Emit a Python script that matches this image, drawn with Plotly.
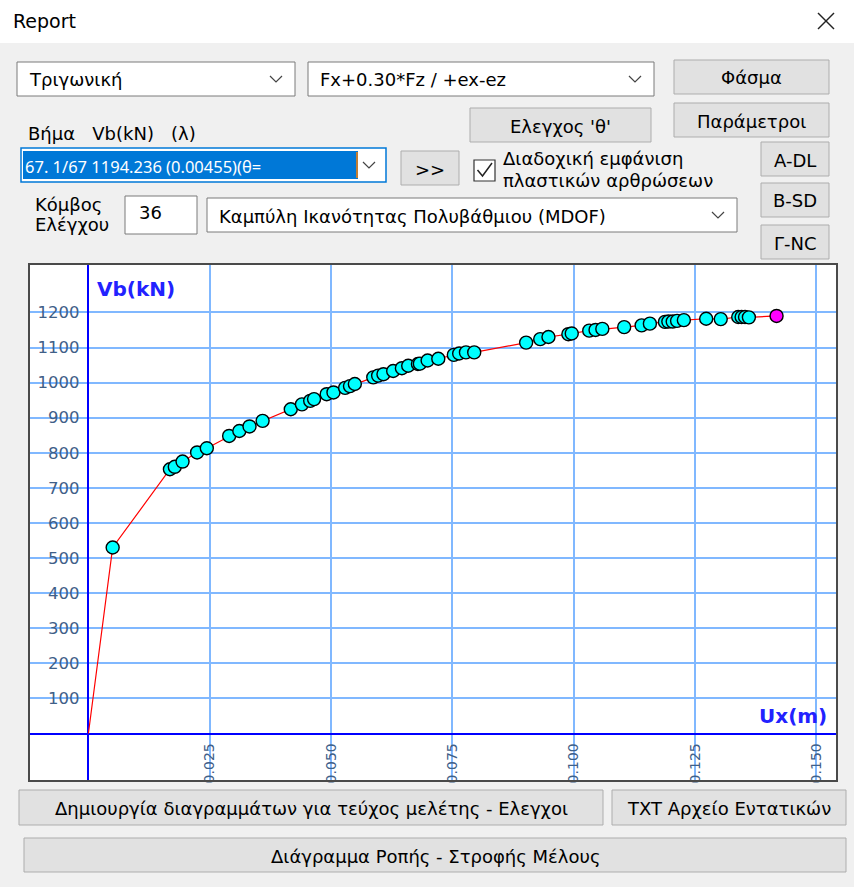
import plotly.graph_objects as go

W, H = 854, 887

# ---------------- data ----------------
ux = [0.0050, 0.0168, 0.0178, 0.0194, 0.0224, 0.0244, 0.0290, 0.0311, 0.0332, 0.0359,
      0.0417, 0.0440, 0.0457, 0.0465, 0.0491, 0.0505, 0.0529, 0.0539, 0.0549, 0.0587,
      0.0597, 0.0608, 0.0628, 0.0646, 0.0659, 0.0679, 0.0683, 0.0699, 0.0721, 0.0753,
      0.0764, 0.0778, 0.0795, 0.0902, 0.0931, 0.0948, 0.0989, 0.0996, 0.1032, 0.1045,
      0.1059, 0.1104, 0.1140, 0.1157, 0.1188, 0.1195, 0.1204, 0.1213, 0.1227, 0.1273,
      0.1303, 0.1339, 0.1346, 0.1353, 0.1361]
vb = [530, 753, 760, 775, 801, 813, 848, 862, 875, 891,
      924, 938, 948, 953, 967, 972, 985, 990, 996, 1015,
      1020, 1024, 1033, 1041, 1048, 1053, 1054, 1063, 1068, 1079,
      1083, 1086, 1086, 1114, 1124, 1130, 1138, 1140, 1148, 1150,
      1153, 1158, 1163, 1168, 1173, 1174, 1174, 1176, 1178, 1182,
      1181, 1187, 1187, 1187, 1186]
origin_ux, origin_vb = 0.0, 0.0
last_ux, last_vb = 0.1418, 1190

y_ticks = [100, 200, 300, 400, 500, 600, 700, 800, 900, 1000, 1100, 1200]
x_ticks = [0.025, 0.050, 0.075, 0.100, 0.125, 0.150]
x_tick_labels = ["0.025", "0.050", "0.075", "0.100", "0.125", "0.150"]

# ---------------- helpers (pixel -> paper) ----------------
def px(x):
    return x / W

def py(y):
    return 1 - y / H

UI_FONT = "DejaVu Sans"
UI_SIZE = 18
shapes = []
annotations = []

def rect(x0, y0, x1, y1, fill, line="#ADADAD", lw=1):
    shapes.append(dict(type="rect", xref="paper", yref="paper",
                       x0=px(x0), x1=px(x1), y0=py(y1), y1=py(y0),
                       fillcolor=fill, line=dict(color=line, width=lw), layer="below"))

def text(x, y, s, size=UI_SIZE, color="#000000", anchor="left", bold=False, family=UI_FONT):
    if bold:
        s = "<b>" + s + "</b>"
    annotations.append(dict(xref="paper", yref="paper", x=px(x), y=py(y), text=s,
                            showarrow=False, xanchor=anchor, yanchor="middle",
                            font=dict(family=family, size=size, color=color)))

def chevron(cx, cy, color="#444444"):
    p = "M {:.5f},{:.5f} L {:.5f},{:.5f} L {:.5f},{:.5f}".format(
        px(cx - 6), py(cy - 3), px(cx), py(cy + 3), px(cx + 6), py(cy - 3))
    shapes.append(dict(type="path", xref="paper", yref="paper", path=p,
                       line=dict(color=color, width=1.2)))

def line(x0, y0, x1, y1, color, width=1.5):
    shapes.append(dict(type="line", xref="paper", yref="paper",
                       x0=px(x0), y0=py(y0), x1=px(x1), y1=py(y1),
                       line=dict(color=color, width=width)))

def button(x0, y0, x1, y1, label, size=UI_SIZE):
    rect(x0, y0, x1, y1, "#E1E1E1", "#ADADAD", 1)
    text((x0 + x1) / 2, (y0 + y1) / 2 + 1, label, size=size, anchor="center")

def combo(x0, y0, x1, y1, label, size=UI_SIZE):
    rect(x0, y0, x1, y1, "#FFFFFF", "#7A7A7A", 1)
    text(x0 + 10, (y0 + y1) / 2 + 1, label, size=size)
    chevron(x1 - 19, (y0 + y1) / 2)

# ---------------- dialog chrome ----------------
rect(0, 0, W, 43, "#FFFFFF", "#FFFFFF", 0)
text(11, 21, "Report", size=19)
line(818, 13, 834, 29, "#222222", 1.5)
line(818, 29, 834, 13, "#222222", 1.5)

combo(17, 62, 295, 96, "Τριγωνική")
combo(308, 62, 654, 96, "Fx+0.30*Fz / +ex-ez")
button(674, 60, 829, 94, "Φάσμα")
button(674, 103, 829, 137, "Παράμετροι")
button(470, 108, 651, 142, "Ελεγχος 'θ'")

text(26, 133, "Βήμα&nbsp;&nbsp;&nbsp;Vb(kN)&nbsp;&nbsp;&nbsp;(λ)")

# highlighted combo
rect(21, 148, 386, 182, "#FFFFFF", "#0078D7", 1.5)
rect(23, 151, 358, 179, "#0078D7", "#0078D7", 0)
text(23, 166, "67. 1/67 1194.236 (0.00455)(θ=", size=16.5, color="#FFFFFF", family="Noto Sans")
line(357, 152, 357, 178, "#FF8000", 1.5)
chevron(369, 165)

button(401, 151, 459, 185, ">>")

rect(474, 160, 495, 181, "#FFFFFF", "#333333", 1.2)
shapes.append(dict(type="path", xref="paper", yref="paper",
                   path="M {:.5f},{:.5f} L {:.5f},{:.5f} L {:.5f},{:.5f}".format(
                       px(477.5), py(170), px(482.5), py(176), px(492), py(163)),
                   line=dict(color="#222222", width=1.5)))
text(501, 158, "Διαδοχική εμφάνιση")
text(501, 181, "πλαστικών αρθρώσεων")

button(761, 142, 829, 176, "A-DL")
button(761, 183, 829, 217, "B-SD")
button(761, 225, 829, 259, "Γ-NC")

text(33, 204, "Κόμβος")
text(33, 225, "Ελέγχου")
rect(125, 196, 197, 234, "#FFFFFF", "#7A7A7A", 1)
text(137, 213, "36")
combo(207, 198, 737, 232, "Καμπύλη Ικανότητας Πολυβάθμιου (MDOF)")

button(19, 790, 603, 825, "Δημιουργία διαγραμμάτων για τεύχος μελέτης - Ελεγχοι")
button(612, 790, 846, 825, "TXT Αρχείο Εντατικών")
button(24, 838, 846, 872, "Διάγραμμα Ροπής - Στροφής Μέλους")

# chart frame
FX0, FY0, FX1, FY1 = 29, 264, 837, 781
rect(FX0, FY0, FX1, FY1, "#FFFFFF", "#FFFFFF", 0)
shapes.append(dict(type="rect", xref="paper", yref="paper",
                   x0=px(FX0), x1=px(FX1), y0=py(FY1), y1=py(FY0),
                   line=dict(color="#4A4A4A", width=2), layer="above"))

# axis titles
text(95, 289, "Vb(kN)", size=20, color="#2222FF", bold=True, family="DejaVu Sans")
text(829, 716, "Ux(m)", size=20, color="#2222FF", bold=True, anchor="right", family="DejaVu Sans")

# ---------------- chart ----------------
X0PX, XSCALE = 88.4, 4853.0      # px per unit displacement
Y0PX, YSCALE = 733.5, 0.3509     # px per kN
x_range = [(FX0 - X0PX) / XSCALE, (FX1 - X0PX) / XSCALE]
y_range = [(Y0PX - FY1) / YSCALE, (Y0PX - FY0) / YSCALE]

fig = go.Figure()
fig.add_trace(go.Scatter(x=[origin_ux] + ux + [last_ux], y=[origin_vb] + vb + [last_vb],
                         mode="lines", line=dict(color="#FF0000", width=1.2),
                         hoverinfo="skip", showlegend=False))
fig.add_trace(go.Scatter(x=ux, y=vb, mode="markers",
                         marker=dict(symbol="circle", size=13, color="#00FFFF",
                                     line=dict(color="#000000", width=1.4)),
                         showlegend=False))
fig.add_trace(go.Scatter(x=[last_ux], y=[last_vb], mode="markers",
                         marker=dict(symbol="circle", size=13, color="#FF00FF",
                                     line=dict(color="#000000", width=1.4)),
                         showlegend=False))

tick_color = "#3F6088"
fig.update_layout(
    width=W, height=H,
    margin=dict(l=0, r=0, t=0, b=0),
    paper_bgcolor="#F0F0F0",
    plot_bgcolor="#FFFFFF",
    shapes=shapes,
    annotations=annotations,
    xaxis=dict(domain=[px(FX0), px(FX1)], range=x_range, anchor="free",
               position=py(Y0PX), tickvals=x_ticks, ticktext=x_tick_labels,
               tickangle=-90, ticks="", showline=False,
               showgrid=True, gridcolor="#80B8FF", gridwidth=2,
               zeroline=True, zerolinecolor="#0000FF", zerolinewidth=2,
               tickfont=dict(family="DejaVu Sans", size=14, color=tick_color),
               ticklabelstandoff=6, fixedrange=True),
    yaxis=dict(domain=[py(FY1), py(FY0)], range=y_range, anchor="free",
               position=px(X0PX), tickvals=y_ticks,
               ticks="", showline=False,
               showgrid=True, gridcolor="#80B8FF", gridwidth=2,
               zeroline=True, zerolinecolor="#0000FF", zerolinewidth=2,
               tickfont=dict(family="DejaVu Sans", size=16.5, color=tick_color),
               ticklabelstandoff=9, fixedrange=True),
)

fig.write_html("out.html")
